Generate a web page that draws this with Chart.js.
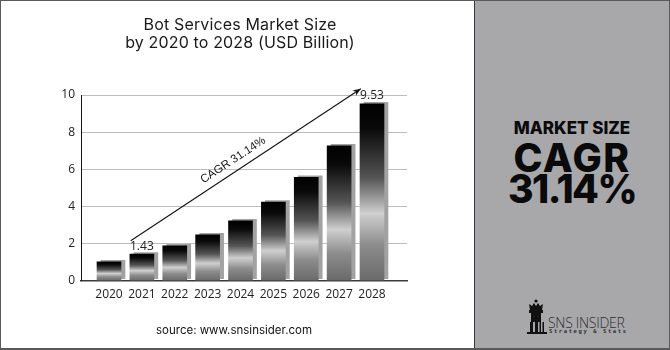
<!DOCTYPE html>
<html>
<head>
<meta charset="utf-8">
<script src="https://cdn.jsdelivr.net/npm/chart.js@4.4.1/dist/chart.umd.min.js"></script>
<style>
html,body{margin:0;padding:0;background:#fff;}
#frame{position:relative;width:670px;height:350px;overflow:hidden;background:#fff;}
#chartBox{position:absolute;left:0;top:0;width:474px;height:350px;}
#title{position:absolute;left:0;top:14.5px;width:480px;text-align:center;font-family:Inter,"Open Sans",sans-serif;font-size:16px;letter-spacing:0.15px;line-height:18px;color:#1a1a1a;}
#source{position:absolute;left:0;top:323px;width:468px;text-align:center;font-family:Inter,"Open Sans",sans-serif;font-size:11.5px;color:#111;}
#panel{position:absolute;left:474px;top:0;width:196px;height:350px;background:#a8a8ab;border-left:1px solid #3a3a3a;box-sizing:border-box;}
#panel div.t{position:absolute;left:-1px;width:196px;text-align:center;font-family:Inter,sans-serif;font-weight:800;color:#0a0a0a;white-space:nowrap;}
#panel .t1{top:117.5px;font-size:17px;line-height:20.6px;}
#panel .t2{top:138px;font-size:39px;line-height:40px;letter-spacing:1.5px;}
#panel .t3{top:169px;font-size:39px;line-height:40px;letter-spacing:-1.5px;}
#logoText{position:absolute;left:73px;top:313px;font-family:"Open Sans",sans-serif;font-weight:300;font-size:14px;color:#2f2f2f;letter-spacing:-0.3px;white-space:nowrap;}
#logoSub{position:absolute;left:74px;top:328px;font-family:"DejaVu Sans Mono",monospace;font-weight:bold;font-size:5.5px;color:#2f2f2f;letter-spacing:1.6px;white-space:nowrap;}
#logoIcon{position:absolute;left:52px;top:299px;}
#border{position:absolute;left:0;top:0;width:668px;height:347px;border:1px solid #5a5a5a;border-bottom-width:2px;pointer-events:none;}
</style>
</head>
<body>
<div id="frame">
  <div id="chartBox"><canvas id="c" width="474" height="350"></canvas></div>
  <div id="title">Bot Services Market Size<br>by 2020 to 2028 (USD Billion)</div>
  <div id="source">source: www.snsinsider.com</div>
  <div id="panel">
    <div class="t t1">MARKET SIZE</div>
    <div class="t t2">CAGR</div>
    <div class="t t3">31.14%</div>
    <svg id="logoIcon" width="20" height="36" viewBox="0 0 20 36">
      <circle cx="9" cy="2" r="1.6" fill="#111"/>
      <path d="M2 5 L5 7 L7 4 L9 7 L11 4 L13 7 L16 5 L15 11 L3 11 Z" fill="#111"/>
      <rect x="2" y="11" width="14" height="3" fill="#111"/>
      <rect x="4" y="14" width="10" height="9" fill="#111"/>
      <rect x="3" y="23" width="3" height="11" fill="#111"/>
      <rect x="8" y="23" width="3" height="11" fill="#111"/>
      <rect x="12.5" y="23" width="1.5" height="11" fill="#111"/>
      <rect x="15.5" y="23" width="1.5" height="11" fill="#111"/>
      <rect x="0" y="33" width="20" height="2" fill="#111"/>
    </svg>
    <div id="logoText">SNS INSIDER</div>
    <div id="logoSub">Strategy &amp; Stats</div>
  </div>
  <div id="border"></div>
</div>
<script>
// ---- data ----
const categories = ['2020', '2021', '2022', '2023', '2024', '2025', '2026', '2027', '2028'];
const marketSize = [1.02, 1.43, 1.88, 2.47, 3.23, 4.23, 5.56, 7.26, 9.53];
const yTicks = [0, 2, 4, 6, 8, 10];
const labelledYears = ['2021', '2028'];
const cagrLabel = 'CAGR 31.14%';

const tickFont = {family: '"Open Sans", sans-serif', size: 12};

function barGradient(ctx) {
  const chart = ctx.chart;
  const area = chart.chartArea;
  if (!area || ctx.type !== 'data') return '#333';
  const v = ctx.raw.y;
  const top = chart.scales.y.getPixelForValue(v);
  const bot = chart.scales.y.getPixelForValue(0);
  const g = chart.ctx.createLinearGradient(0, top, 0, bot);
  g.addColorStop(0, '#000000');
  g.addColorStop(0.14, '#0a0a0a');
  g.addColorStop(0.42, '#555555');
  g.addColorStop(0.62, '#cfcfcf');
  g.addColorStop(0.8, '#8c8c8c');
  g.addColorStop(1, '#6a6a6a');
  return g;
}

const shadowPlugin = {
  id: 'barShadow',
  beforeDatasetDraw(chart) {
    const c = chart.ctx;
    c.save();
    c.shadowColor = '#a2a2a2';
    c.shadowOffsetX = 4;
    c.shadowOffsetY = -1.5;
    c.shadowBlur = 0;
  },
  afterDatasetDraw(chart) { chart.ctx.restore(); }
};

const annotPlugin = {
  id: 'annot',
  afterDatasetsDraw(chart) {
    const c = chart.ctx;
    const xs = chart.scales.x, ys = chart.scales.y;
    const meta = chart.getDatasetMeta(0);
    // value labels
    c.save();
    c.font = '12px "Open Sans", sans-serif';
    c.fillStyle = '#222';
    c.textAlign = 'center';
    c.textBaseline = 'middle';
    categories.forEach((cat, i) => {
      if (labelledYears.includes(cat)) {
        const el = meta.data[i];
        c.fillText(marketSize[i].toFixed(2), el.x, el.y - 8);
      }
    });
    // growth arrow
    const x1 = xs.getPixelForValue(0.66), y1 = ys.getPixelForValue(2.15);
    const x2 = xs.getPixelForValue(7.66), y2 = ys.getPixelForValue(10.34);
    c.strokeStyle = '#111';
    c.lineWidth = 1.1;
    c.beginPath();
    c.moveTo(x1, y1);
    c.lineTo(x2, y2);
    c.stroke();
    const ang = Math.atan2(y2 - y1, x2 - x1);
    const hl = 8, hw = 3.2;
    c.fillStyle = '#111';
    c.beginPath();
    c.moveTo(x2, y2);
    c.lineTo(x2 - hl * Math.cos(ang) + hw * Math.sin(ang), y2 - hl * Math.sin(ang) - hw * Math.cos(ang));
    c.lineTo(x2 - hl * 0.7 * Math.cos(ang), y2 - hl * 0.7 * Math.sin(ang));
    c.lineTo(x2 - hl * Math.cos(ang) - hw * Math.sin(ang), y2 - hl * Math.sin(ang) + hw * Math.cos(ang));
    c.closePath();
    c.fill();
    // CAGR text along arrow
    const mx = (x1 + x2) / 2, my = (y1 + y2) / 2;
    c.translate(mx, my);
    c.rotate(ang);
    c.font = '11.5px "Liberation Sans", Arial, sans-serif';
    c.fillStyle = '#111';
    c.textAlign = 'center';
    c.textBaseline = 'bottom';
    c.fillText(cagrLabel, -8, -5);
    c.restore();
  }
};

new Chart(document.getElementById('c'), {
  type: 'bar',
  data: {
    datasets: [{
      data: marketSize.map((v, i) => ({x: i, y: v})),
      backgroundColor: barGradient,
      borderWidth: 0,
      barThickness: 24
    }]
  },
  options: {
    responsive: false,
    animation: false,
    events: [],
    layout: {padding: {left: 40, right: 67, top: 95, bottom: 39.3}},
    plugins: {legend: {display: false}, tooltip: {enabled: false}, title: {display: false}},
    scales: {
      x: {
        type: 'linear',
        offset: false,
        min: -0.852,
        max: 9.065,
        afterBuildTicks: s => { s.ticks = categories.map((c, i) => ({value: i})); },
        afterFit: s => { s.height = 30; },
        ticks: {
          callback: v => categories[v],
          font: tickFont, color: '#222', padding: 7, autoSkip: false, maxRotation: 0
        },
        grid: {display: false, drawTicks: false, offset: false},
        border: {display: true, color: '#3a3a3a', width: 1.5}
      },
      y: {
        min: 0,
        max: 10,
        afterBuildTicks: s => { s.ticks = yTicks.map(v => ({value: v})); },
        afterFit: s => { s.width = 41; },
        ticks: {font: tickFont, color: '#222', padding: 6},
        grid: {color: '#bdbdbd', lineWidth: 1, drawTicks: false},
        border: {display: true, color: '#111', width: 1}
      }
    }
  },
  plugins: [shadowPlugin, annotPlugin]
});
</script>
</body>
</html>
